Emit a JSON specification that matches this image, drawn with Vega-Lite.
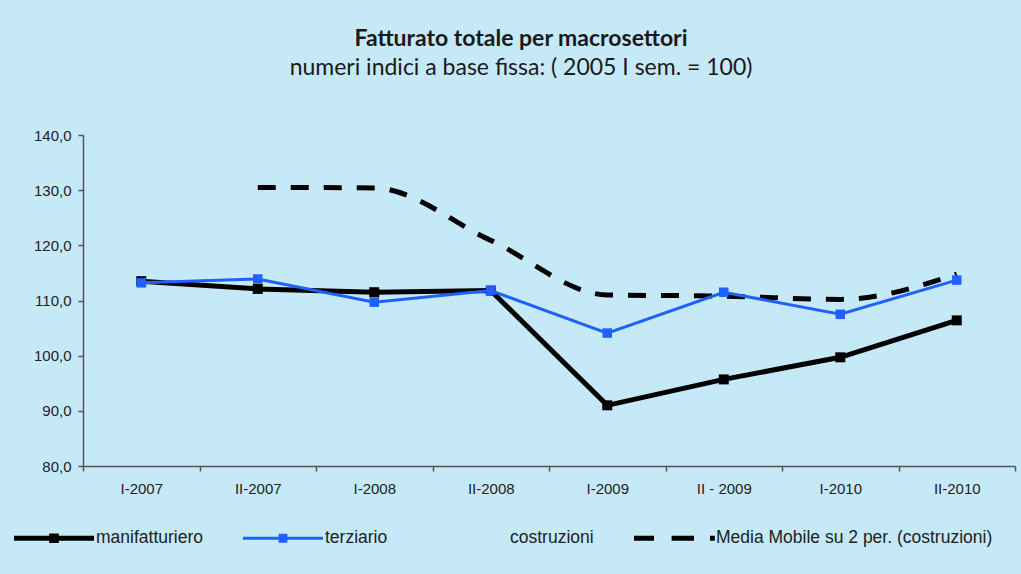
{
  "$schema": "https://vega.github.io/schema/vega-lite/v6.json",
  "autosize": "none",
  "width": 932,
  "height": 331,
  "padding": {"left": 83, "top": 135, "right": 6, "bottom": 108},
  "background": "#C6E9F8",
  "title": {
    "text": "Fatturato totale per macrosettori",
    "subtitle": "numeri indici a base fissa: ( 2005 I sem. = 100)",
    "anchor": "middle",
    "frame": "group",
    "dx": -28,
    "offset": 48,
    "font": "Lato",
    "fontSize": 23,
    "fontWeight": "bold",
    "color": "#1a1a1a",
    "subtitleFont": "Lato",
    "subtitleFontSize": 23,
    "subtitleColor": "#1a1a1a",
    "subtitlePadding": 6
  },
  "config": {
    "view": {"stroke": null},
    "axis": {
      "labelFont": "Liberation Sans",
      "labelFontSize": 15,
      "labelColor": "#222222",
      "domainColor": "#555555",
      "tickColor": "#555555",
      "domainWidth": 1.5,
      "tickWidth": 1.5,
      "grid": false,
      "title": null
    }
  },
  "data": {
    "values": [
      {"period": "I-2007", "series": "manifatturiero", "value": 113.5},
      {"period": "II-2007", "series": "manifatturiero", "value": 112.1},
      {"period": "I-2008", "series": "manifatturiero", "value": 111.5},
      {"period": "II-2008", "series": "manifatturiero", "value": 111.8},
      {"period": "I-2009", "series": "manifatturiero", "value": 91.0},
      {"period": "II - 2009", "series": "manifatturiero", "value": 95.7},
      {"period": "I-2010", "series": "manifatturiero", "value": 99.7},
      {"period": "II-2010", "series": "manifatturiero", "value": 106.4},
      {"period": "I-2007", "series": "terziario", "value": 113.2},
      {"period": "II-2007", "series": "terziario", "value": 113.9},
      {"period": "I-2008", "series": "terziario", "value": 109.7},
      {"period": "II-2008", "series": "terziario", "value": 111.8},
      {"period": "I-2009", "series": "terziario", "value": 104.1},
      {"period": "II - 2009", "series": "terziario", "value": 111.5},
      {"period": "I-2010", "series": "terziario", "value": 107.5},
      {"period": "II-2010", "series": "terziario", "value": 113.7},
      {"period": "II-2007", "series": "Media Mobile su 2 per. (costruzioni)", "value": 130.5},
      {"period": "I-2008", "series": "Media Mobile su 2 per. (costruzioni)", "value": 130.4},
      {"period": "II-2008", "series": "Media Mobile su 2 per. (costruzioni)", "value": 120.9},
      {"period": "I-2009", "series": "Media Mobile su 2 per. (costruzioni)", "value": 111.0},
      {"period": "II - 2009", "series": "Media Mobile su 2 per. (costruzioni)", "value": 110.8},
      {"period": "I-2010", "series": "Media Mobile su 2 per. (costruzioni)", "value": 110.2},
      {"period": "II-2010", "series": "Media Mobile su 2 per. (costruzioni)", "value": 114.8}
    ]
  },
  "encoding": {
    "x": {
      "field": "period",
      "type": "ordinal",
      "sort": ["I-2007", "II-2007", "I-2008", "II-2008", "I-2009", "II - 2009", "I-2010", "II-2010"],
      "scale": {"type": "band", "paddingInner": 0, "paddingOuter": 0},
      "axis": {"labelAngle": 0, "tickBand": "extent", "tickSize": 5, "labelPadding": 10}
    },
    "y": {
      "field": "value",
      "type": "quantitative",
      "scale": {"domain": [80, 140], "nice": false, "zero": false},
      "axis": {
        "values": [80, 90, 100, 110, 120, 130, 140],
        "labelExpr": "replace(format(datum.value, '.1f'), '.', ',')",
        "tickSize": 5,
        "labelPadding": 7
      }
    },
    "color": {
      "field": "series",
      "type": "nominal",
      "scale": {
        "domain": ["manifatturiero", "terziario", "costruzioni", "Media Mobile su 2 per. (costruzioni)"],
        "range": ["#000000", "#2060FF", "transparent", "#000000"]
      },
      "legend": {
        "orient": "none",
        "legendX": -69,
        "legendY": 363,
        "direction": "horizontal",
        "title": null,
        "padding": 0,
        "symbolSize": 6400,
        "symbolStrokeWidth": 0,
        "labelOffset": 2,
        "columnPadding": 40,
        "labelFont": "Liberation Sans",
        "labelFontSize": 17.5,
        "labelColor": "#222222",
        "labelLimit": 400,
        "encode": {
          "symbols": {
            "update": {
              "shape": {"signal": "datum.value === 'costruzioni' ? 'M0,0Z' : datum.value === 'terziario' ? 'M-1,-0.04H-0.11V-0.11H0.11V-0.04H1V0.04H0.11V0.11H-0.11V0.04H-1Z' : datum.value === 'manifatturiero' ? 'M-1,-0.065H-0.12V-0.12H0.12V-0.065H1V0.065H0.12V0.12H-0.12V0.065H-1Z' : 'M-1,-0.065H-0.5V0.065H-1Z M-0.06,-0.065H0.5V0.065H-0.06Z M0.9,-0.065H1.02V0.065H0.9Z'"},
              "fill": {"signal": "datum.value === 'terziario' ? '#2060FF' : datum.value === 'costruzioni' ? 'transparent' : '#000000'"},
              "stroke": {"value": "transparent"},
              "strokeWidth": {"value": 0},
              "opacity": {"value": 1}
            }
          }
        }
      }
    }
  },
  "layer": [
    {
      "transform": [{"filter": "datum.series === 'Media Mobile su 2 per. (costruzioni)'"}],
      "mark": {"type": "line", "strokeWidth": 5, "strokeDash": [18, 15], "interpolate": "monotone"}
    },
    {
      "transform": [{"filter": "datum.series === 'manifatturiero'"}],
      "mark": {"type": "line", "strokeWidth": 5}
    },
    {
      "transform": [{"filter": "datum.series === 'manifatturiero'"}],
      "mark": {"type": "square", "size": 100, "filled": true, "opacity": 1}
    },
    {
      "transform": [{"filter": "datum.series === 'terziario'"}],
      "mark": {"type": "line", "strokeWidth": 3}
    },
    {
      "transform": [{"filter": "datum.series === 'terziario'"}],
      "mark": {"type": "square", "size": 90, "filled": true, "opacity": 1}
    }
  ]
}
